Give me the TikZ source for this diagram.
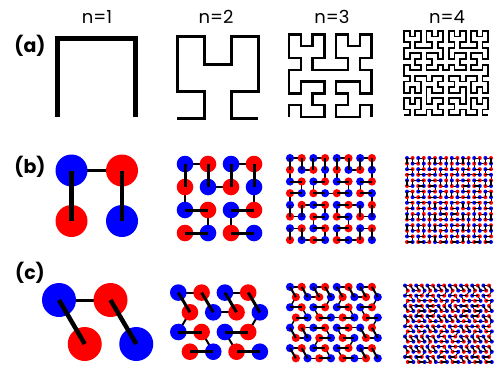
\documentclass[tikz,border=0pt]{standalone}
\usepackage{fontspec}
\setmainfont{Poppins}
\usetikzlibrary{positioning}

\definecolor{beadred}{RGB}{255,0,0}
\definecolor{beadblue}{RGB}{0,0,255}

\tikzstyle{hcurve} = [draw=black, line cap=butt, line join=miter]
\tikzstyle{bond} = [draw=black]
\tikzstyle{link} = [draw=black]
\tikzstyle{coltitle} = [inner sep=0pt, font=\fontsize{18}{21}\selectfont]
\tikzstyle{rowtag} = [inner sep=0pt, font=\bfseries\fontsize{19}{22}\selectfont]

% registers for the Hilbert index -> cell map
\newcount\hilT \newcount\hilX \newcount\hilY \newcount\hilS
\newcount\hilRX \newcount\hilRY \newcount\hilA

% \hilbertxy{grid size}{index} -> \hilX, \hilY
\newcommand\hilbertxy[2]{%
  \hilT=#2\relax \hilX=0 \hilY=0 \hilS=1
  \loop\ifnum\hilS<#1\relax
    \hilA=\hilT \divide\hilA by 2
    \hilRX=\hilA \divide\hilRX by 2 \multiply\hilRX by 2
    \hilRX=\numexpr\hilA-\hilRX\relax
    \hilA=\hilT \divide\hilA by 2 \multiply\hilA by 2
    \hilA=\numexpr\hilT-\hilA\relax
    \ifnum\hilA=\hilRX \hilRY=0 \else \hilRY=1 \fi
    \ifnum\hilRY=0
      \ifnum\hilRX=1
        \hilX=\numexpr\hilS-1-\hilX\relax
        \hilY=\numexpr\hilS-1-\hilY\relax
      \fi
      \hilA=\hilX \hilX=\hilY \hilY=\hilA
    \fi
    \advance\hilX by \numexpr\hilS*\hilRX\relax
    \advance\hilY by \numexpr\hilS*\hilRY\relax
    \divide\hilT by 4
    \multiply\hilS by 2
  \repeat}

% \hilpoints{name}{grid size}{x0}{y0}{dx}{dy}{shift of even rows}
\newcommand\hilpoints[7]{%
  \pgfmathtruncatemacro\hillast{#2*#2-1}%
  \foreach \p in {0,...,\hillast}{%
    \hilbertxy{#2}{\p}%
    \ifodd\hilY \def\hilshift{0}\else \def\hilshift{#7}\fi
    \coordinate (#1-\p) at ({#3+#5*\the\hilX+\hilshift},{#4-#6*\the\hilY});
  }}

% \hilcurve{name}{grid size}{line width}
\newcommand\hilcurve[3]{%
  \pgfmathtruncatemacro\hillast{#2*#2-1}%
  \draw[hcurve, line width=#3pt] (#1-0) \foreach \p in {1,...,\hillast}{ -- (#1-\p)};}

% \hildimers{name}{grid size}{bead radius}{bond width}{link width}
\newcommand\hildimers[5]{%
  \pgfmathtruncatemacro\hillast{#2*#2-1}%
  \pgfmathtruncatemacro\hilpairs{#2*#2/2-1}%
  \pgfmathtruncatemacro\hillinks{#2*#2/2-2}%
  \foreach \q in {0,...,\hillinks}{%
    \pgfmathtruncatemacro\pa{2*\q+1}\pgfmathtruncatemacro\pb{2*\q+2}%
    \draw[link, line width=#5pt] (#1-\pa) -- (#1-\pb);}
  \foreach \p in {0,...,\hillast}{%
    \ifodd\p \def\beadcol{beadblue}\else \def\beadcol{beadred}\fi
    \fill[fill=\beadcol] (#1-\p) circle[radius=#3pt];}
  \foreach \q in {0,...,\hilpairs}{%
    \pgfmathtruncatemacro\pa{2*\q}\pgfmathtruncatemacro\pb{2*\q+1}%
    \draw[bond, line width=#4pt] (#1-\pa) -- (#1-\pb);}}

\begin{document}
\begin{tikzpicture}[x=1pt, y=-1pt]
\useasboundingbox (0,0) rectangle (497,369);

% column titles
\node[coltitle] (t1) at (97,17) {n=1};
\node[coltitle] (t2) at (216,17) {n=2};
\node[coltitle] (t3) at (332,17) {n=3};
\node[coltitle] (t4) at (447,17) {n=4};

% row tags
\node[rowtag] (taga) at (30,46) {(a)};
\node[rowtag] (tagb) at (30,167) {(b)};
\node[rowtag] (tagc) at (30,273) {(c)};

% (a) Hilbert curves
\hilpoints{a1}{2}{57}{117}{78}{78}{0}
\hilpoints{a2}{4}{177}{118}{27}{27}{0}
\hilpoints{a3}{8}{289}{117}{11.8}{11.8}{0}
\hilpoints{a4}{16}{404}{115}{5.6}{5.6}{0}
\hilcurve{a1}{2}{5}
\hilcurve{a2}{4}{3}
\hilcurve{a3}{8}{2.5}
\hilcurve{a4}{16}{1.8}

% (b) dimers on the square grid
\hilpoints{b1}{2}{71.5}{221}{50.5}{50.5}{0}
\hilpoints{b2}{4}{185}{233}{23}{23}{0}
\hilpoints{b3}{8}{290}{240}{11.7}{11.7}{0}
\hilpoints{b4}{16}{407}{242}{5.6}{5.6}{0}
\hildimers{b1}{2}{16}{4.5}{3}
\hildimers{b2}{4}{8.3}{3}{2}
\hildimers{b3}{8}{4.1}{2}{1.4}
\hildimers{b4}{16}{2}{1.3}{0.9}

% (c) dimers on the triangular grid
\hilpoints{c1}{2}{59}{344}{51.5}{44}{25.75}
\hilpoints{c2}{4}{178.3}{351.7}{23.3}{19.7}{11.65}
\hilpoints{c3}{8}{290}{358.3}{11.7}{10.2}{5.85}
\hilpoints{c4}{16}{405}{362}{5.6}{5.1}{2.8}
\hildimers{c1}{2}{17}{4.5}{3}
\hildimers{c2}{4}{8.3}{3}{2}
\hildimers{c3}{8}{4.1}{2}{1.4}
\hildimers{c4}{16}{2}{1.3}{0.9}

\end{tikzpicture}
\end{document}
